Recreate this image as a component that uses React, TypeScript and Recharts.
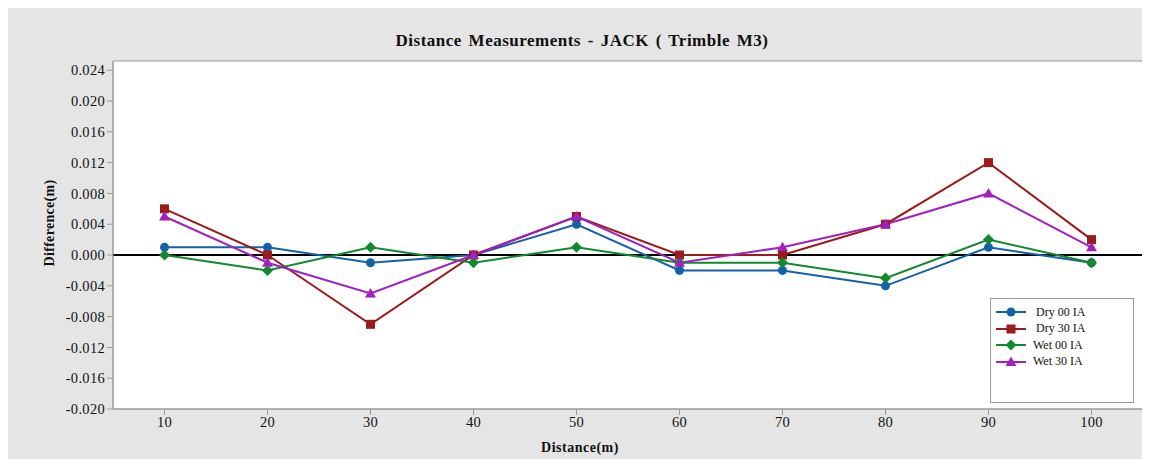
import {
  LineChart,
  Line,
  XAxis,
  YAxis,
  ReferenceLine,
  ReferenceArea,
} from 'recharts';

const distances = [10, 20, 30, 40, 50, 60, 70, 80, 90, 100];
const dry00 = [0.001, 0.001, -0.001, 0.0, 0.004, -0.002, -0.002, -0.004, 0.001, -0.001];
const dry30 = [0.006, 0.0, -0.009, 0.0, 0.005, 0.0, 0.0, 0.004, 0.012, 0.002];
const wet00 = [0.0, -0.002, 0.001, -0.001, 0.001, -0.001, -0.001, -0.003, 0.002, -0.001];
const wet30 = [0.005, -0.001, -0.005, 0.0, 0.005, -0.001, 0.001, 0.004, 0.008, 0.001];
const yTicks = [-0.02, -0.016, -0.012, -0.008, -0.004, 0, 0.004, 0.008, 0.012, 0.016, 0.02, 0.024];

const data = distances.map((d, i) => ({
  d,
  dry00: dry00[i],
  dry30: dry30[i],
  wet00: wet00[i],
  wet30: wet30[i],
}));

const FONT = 'Liberation Serif, Times New Roman, Tinos, DejaVu Serif, serif';

const series = [
  { key: 'dry00', name: 'Dry 00 IA', color: '#1560ad', shape: 'circle' },
  { key: 'dry30', name: 'Dry 30 IA', color: '#9b1b1b', shape: 'square' },
  { key: 'wet00', name: 'Wet 00 IA', color: '#108a2c', shape: 'diamond' },
  { key: 'wet30', name: 'Wet 30 IA', color: '#a020c0', shape: 'triangle' },
];

function Marker({ cx, cy, shape, color }: any) {
  if (cx == null || cy == null) return null;
  if (shape === 'circle') return <circle cx={cx} cy={cy} r={4.5} fill={color} />;
  if (shape === 'square')
    return <rect x={cx - 4.5} y={cy - 4.5} width={9} height={9} fill={color} />;
  if (shape === 'diamond')
    return <polygon points={`${cx},${cy - 5.5} ${cx + 5.5},${cy} ${cx},${cy + 5.5} ${cx - 5.5},${cy}`} fill={color} />;
  return <polygon points={`${cx},${cy - 5.5} ${cx + 5.5},${cy + 4} ${cx - 5.5},${cy + 4}`} fill={color} />;
}

function LegendBox() {
  return (
    <div
      style={{
        position: 'absolute',
        left: 983,
        top: 290,
        width: 142,
        height: 103,
        background: '#fff',
        border: '1px solid #999',
        fontFamily: FONT,
        fontSize: 12,
        color: '#111',
      }}
    >
      {series.map((s, i) => (
        <div key={s.key} style={{ position: 'absolute', left: 4, top: 5 + i * 16.5, height: 16, display: 'flex', alignItems: 'center' }}>
          <svg width={32} height={14}>
            <line x1={1} x2={31} y1={7} y2={7} stroke={s.color} strokeWidth={2} />
            <Marker cx={16} cy={7} shape={s.shape} color={s.color} />
          </svg>
          <span style={{ marginLeft: i < 2 ? 9 : 6 }}>{s.name}</span>
        </div>
      ))}
    </div>
  );
}

export default function App() {
  return (
    <div
      style={{
        position: 'relative',
        width: 1143,
        height: 451,
        background: '#e5e5e5',
        marginLeft: -1,
      }}
    >
      <div
        style={{
          position: 'absolute',
          top: 23,
          left: 0,
          width: 1150,
          textAlign: 'center',
          fontFamily: FONT,
          fontWeight: 'bold',
          fontSize: 17,
          letterSpacing: 0.5,
          wordSpacing: 2,
          color: '#111',
        }}
      >
        Distance Measurements - JACK ( Trimble M3)
      </div>
      <LineChart
        width={1143}
        height={451}
        data={data}
        margin={{ top: 53, right: 7, left: 0, bottom: 0 }}
        style={{ position: 'absolute', left: 0, top: 0 }}
      >
        <XAxis
          dataKey="d"
          type="number"
          domain={[5, 105]}
          ticks={distances}
          allowDataOverflow
          height={50}
          tickSize={6}
          tick={{ fill: '#111', fontSize: 14.5, fontFamily: FONT, letterSpacing: 0.3 }}
          axisLine={{ stroke: '#999' }}
          tickLine={{ stroke: '#999' }}
          label={{
            value: 'Distance(m)',
            position: 'center',
            dx: -48,
            dy: 13,
            style: { fontFamily: FONT, fontWeight: 'bold', fontSize: 14, fill: '#111', letterSpacing: 0.5 },
          }}
        />
        <YAxis
          type="number"
          domain={[-0.02, 0.0252]}
          ticks={yTicks}
          allowDataOverflow
          width={106}
          tickSize={6}
          tickFormatter={(v: number) => v.toFixed(3)}
          tick={{ fill: '#111', fontSize: 14.5, fontFamily: FONT, letterSpacing: 0.3 }}
          axisLine={{ stroke: '#999' }}
          tickLine={{ stroke: '#999' }}
          label={{
            value: 'Difference(m)',
            angle: -90,
            position: 'center',
            dx: -11,
            dy: -12,
            style: { fontFamily: FONT, fontWeight: 'bold', fontSize: 14, fill: '#111', textAnchor: 'middle', letterSpacing: 0.3 },
          }}
        />
        <ReferenceArea
          x1={5}
          x2={105}
          y1={-0.02}
          y2={0.0252}
          fill="#fff"
          fillOpacity={1}
          stroke="#999"
          strokeWidth={1}
        />
        <ReferenceLine y={0} stroke="#000" strokeWidth={2} />
        {series.map((s) => (
          <Line
            key={s.key}
            dataKey={s.key}
            name={s.name}
            type="linear"
            stroke={s.color}
            strokeWidth={2}
            dot={(p: any) => <Marker key={`${s.key}-${p.index}`} cx={p.cx} cy={p.cy} shape={s.shape} color={s.color} />}
            activeDot={false}
            isAnimationActive={false}
          />
        ))}
      </LineChart>
      <LegendBox />
    </div>
  );
}
